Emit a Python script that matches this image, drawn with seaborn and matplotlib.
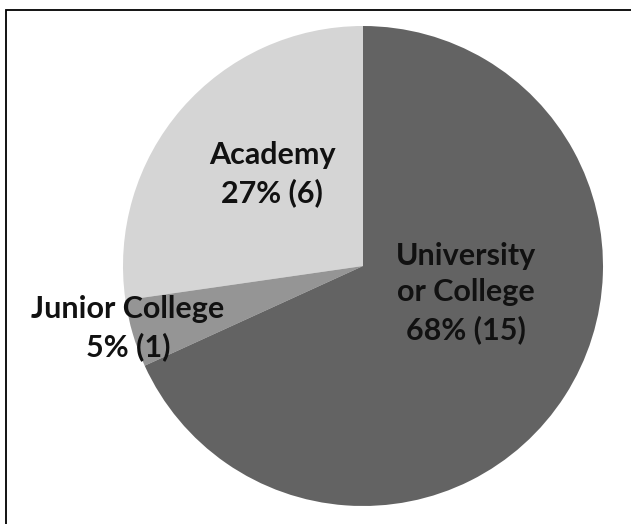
import numpy as np
import seaborn as sns
import matplotlib
matplotlib.use("Agg")
from matplotlib import pyplot as plt
from matplotlib.patches import Rectangle

# data (counterclockwise from the top)
categories = ["Academy", "Junior College", "University\nor College"]
counts = [6, 1, 15]
colors = ["#d5d5d5", "#959595", "#636363"]

# label centres in pixels of the 631x524 picture
label_px = [(272, 174), (128, 328), (466, 293)]

W, H = 631, 524
cx, cy, r = 363, 266, 240


def process():
    sns.set_theme(style="white")
    plt.rcParams['font.family'] = ['Lato', 'DejaVu Sans']

    fig = plt.figure(figsize=(W / 100, H / 100), dpi=100)
    fig.patch.set_facecolor("white")
    ax = fig.add_axes([(cx - r) / W, (H - cy - r) / H, 2 * r / W, 2 * r / H])

    ax.pie(counts, colors=colors, startangle=90, counterclock=True,
           radius=1, wedgeprops=dict(linewidth=0))
    ax.set_xlim(-1, 1)
    ax.set_ylim(-1, 1)
    ax.set_aspect("equal")
    ax.axis("off")

    total = sum(counts)
    for name, n, (px, py) in zip(categories, counts, label_px):
        pct = int(np.floor(100 * n / total + 0.5))
        txt = name + "\n" + str(pct) + "% (" + str(n) + ")"
        ax.text((px - cx) / r, (cy - py) / r, txt, ha="center", va="center",
                fontsize=22, fontweight="bold", color="#111111",
                linespacing=1.38)

    # frame around the picture (open to the right and bottom)
    fig.patches.append(Rectangle((6 / W, -0.1), 1.2, (H - 10) / H + 0.1,
                                 transform=fig.transFigure, fill=False,
                                 edgecolor="black", linewidth=1.3))

    fig.savefig("out.png", dpi=100)


if __name__ == '__main__':
    process()
